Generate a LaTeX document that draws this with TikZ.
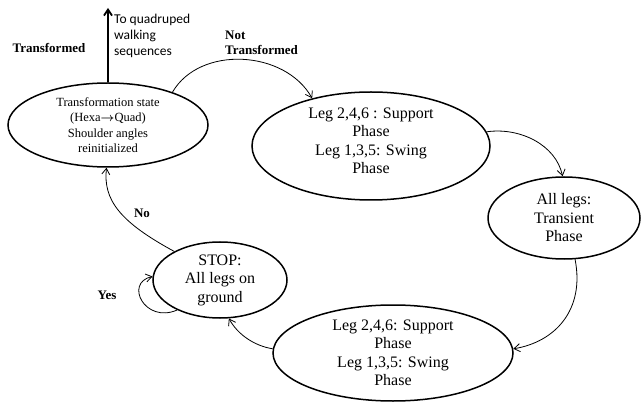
\documentclass[tikz,border=0pt]{standalone}
\usepackage{amsmath}
\usepackage{fontspec}
\setmainfont{Liberation Serif}
\newfontfamily\timesx{Liberation Serif}
\newfontfamily\labelsans{Carlito}
\usetikzlibrary{shapes.geometric,arrows.meta}
\begin{document}
\begin{tikzpicture}[x=1pt,y=-1pt,
  state/.style={draw,ellipse,line width=1.5pt,inner sep=0pt,align=center},
  big/.style={font=\timesx\fontsize{16}{18.5}\selectfont},
  small/.style={font=\timesx\fontsize{12.5}{15.5}\selectfont},
  conn/.style={line width=0.8pt,-{Straight Barb[length=6pt,width=8pt]}},
  lbl/.style={font=\timesx\fontsize{13}{15}\selectfont\bfseries,inner sep=0pt,align=left},
  sanslbl/.style={font=\labelsans\fontsize{13.5}{16}\selectfont,inner sep=0pt,align=left}
]
\useasboundingbox (0,0) rectangle (642,403);

\node[state,small,minimum width=200pt,minimum height=84pt] (e1) at (108,125)
  {Transformation state\\(Hexa$\boldsymbol{\rightarrow}$Quad)\\Shoulder angles\\reinitialized};
\node[state,minimum width=238pt,minimum height=108pt] (e2) at (371,146) {};
\node[big,align=center,inner sep=0pt] (e2t) at (371,141)
  {Leg 2,4,6 : Support\\Phase\\Leg 1,3,5: Swing\\Phase};
\node[state,big,minimum width=152pt,minimum height=82pt] (e3) at (564,218)
  {All legs:\\Transient\\Phase};
\node[state,big,minimum width=240pt,minimum height=96pt] (e4) at (393,353)
  {Leg 2,4,6: Support\\Phase\\Leg 1,3,5: Swing\\Phase};
\node[state,big,minimum width=134pt,minimum height=76pt] (e5) at (220,280)
  {STOP:\\All legs on\\ground};

\coordinate (up) at (108,8);
\draw[line width=1.8pt,-{Straight Barb[length=6pt,width=8pt]}] (e1.north) -- (up);

\node[sanslbl,anchor=west] (tq) at (114,36) {To quadruped\\walking\\sequences};
\node[lbl] (tf) at (49,48) {Transformed};
\node[lbl,anchor=north west] (ntf) at (225,31) {Not\\Transformed};
\node[lbl] (no) at (142,213) {No};
\node[lbl] (yes) at (107,295) {Yes};

\draw[conn] (e1.27) .. controls (200,45) and (285,50) .. (e2.141);
\draw[conn] (e2.7) .. controls (520,127) and (556,145) .. (e3.92);
\draw[conn] (e3.-75) .. controls (585,310) and (555,342) .. (e4.2);
\draw[conn] (e4.178) .. controls (255,346) and (238,335) .. (e5.-77);
\draw[conn] (e5.148) .. controls (120,222) and (103,200) .. (e1.-92);
\draw[conn] (e5.-145) .. controls (145,324) and (124,283) .. (e5.177);
\end{tikzpicture}
\end{document}
